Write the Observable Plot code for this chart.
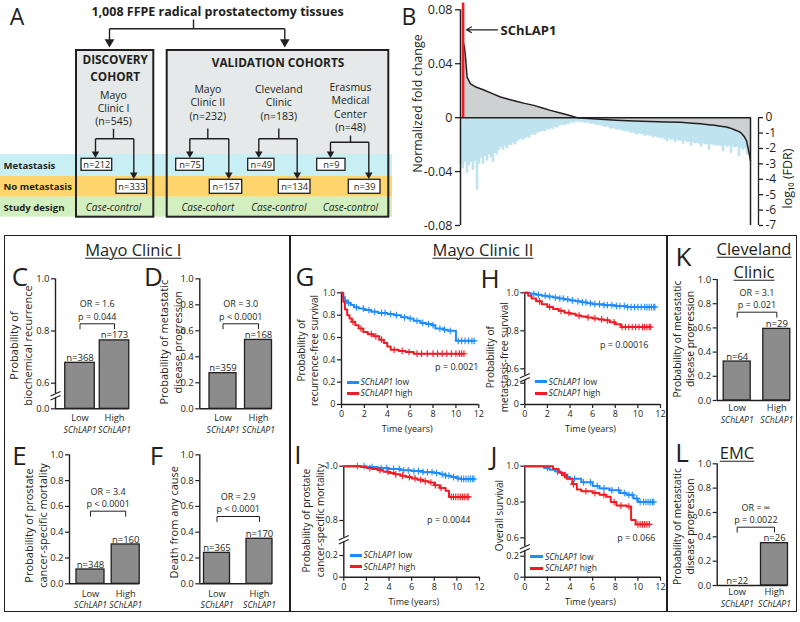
<!DOCTYPE html>
<html><head><meta charset="utf-8">
<script src="https://cdn.jsdelivr.net/npm/d3@7"></script>
<script src="https://cdn.jsdelivr.net/npm/@observablehq/plot@0.6"></script>
<style>
body{margin:0;background:#fff;}
#fig{position:relative;width:800px;height:622px;overflow:hidden;background:#fff;font-family:"Open Sans",sans-serif;color:#231f20;}
.abs{position:absolute;white-space:nowrap;line-height:1;}
.c{transform:translate(-50%,-50%);}
.lm{transform:translate(0,-50%);}
.letter{font-size:26px;}
.ttl{font-size:16.5px;text-decoration:underline;text-decoration-thickness:1px;text-underline-offset:2px;}
.lg{font-size:8.5px;}
.frame{position:absolute;border:1.6px solid #231f20;box-sizing:border-box;}
.vl{position:absolute;width:1.6px;background:#231f20;}
.sw{position:absolute;height:3px;}
#fig svg{position:absolute;}
</style></head><body><div id="fig"></div>
<script>
// ================= DATA =================
// Panel A
const totalTissues = "1,008 FFPE radical prostatectomy tissues";
const groupTitles = ["DISCOVERY\nCOHORT", "VALIDATION COHORTS"];
const cohortNames = ["Mayo\nClinic I", "Mayo\nClinic II", "Cleveland\nClinic", "Erasmus\nMedical\nCenter"];
const cohortN = [545, 232, 183, 48];
const metastasisN = [212, 75, 49, 9];
const noMetastasisN = [333, 157, 134, 39];
const studyDesign = ["Case-control", "Case-cohort", "Case-control", "Case-control"];
const rowLabels = ["Metastasis", "No metastasis", "Study design"];

// Panel B
const fcRank = [1.5, 2, 2.5, 3.3, 5, 8, 11.7, 16, 20, 24, 28.3, 32, 36.7, 41, 45, 49, 53.3, 58.3, 64, 70, 78, 86.7, 95, 103, 110, 116, 120, 124, 127, 130, 133, 135, 137, 139, 140, 141, 142, 143, 144, 144.5, 145];
const fcValue = [0.055, 0.052, 0.045, 0.03, 0.025, 0.0225, 0.0205, 0.0178, 0.0153, 0.0136, 0.012, 0.0106, 0.0091, 0.0072, 0.0054, 0.0038, 0.0022, 0, -0.0006, -0.0012, -0.0019, -0.0025, -0.0029, -0.0032, -0.0035, -0.0041, -0.0046, -0.0052, -0.0057, -0.0063, -0.007, -0.0078, -0.009, -0.0102, -0.011, -0.0125, -0.0144, -0.017, -0.024, -0.028, -0.032];
const fdrLog10 = [
 -3.0,-3.3,-2.9,-3.6,-3.1,-2.9,-3.4,-2.8,-4.7,-3.0,
 -2.6,-3.0,-2.5,-2.8,-2.4,-2.6,-2.9,-2.3,-2.4,-2.1,
 -1.9,-2.1,-1.85,-2.0,-1.75,-1.8,-1.65,-1.75,-1.55,-1.45,
 -1.4,-1.45,-1.35,-1.25,-1.3,-1.15,-1.05,-1.15,-1.0,-0.95,
 -0.9,-0.85,-0.9,-0.75,-0.8,-0.7,-0.75,-0.6,-0.65,-0.55,
 -0.5,-0.45,-0.5,-0.4,-0.42,-0.3,-0.35,-0.28,-0.25,-0.3,
 -0.32,-0.3,-0.36,-0.33,-0.35,-0.42,-0.4,-0.45,-0.5,-0.48,
 -0.5,-0.55,-0.62,-0.58,-0.65,-0.72,-0.68,-0.75,-0.8,-0.76,
 -0.82,-0.85,-0.9,-0.88,-0.95,-1.0,-0.96,-1.05,-1.1,-1.02,
 -1.08,-1.1,-1.2,-1.12,-1.18,-1.2,-1.3,-1.22,-1.28,-1.3,
 -1.35,-1.32,-1.4,-1.55,-1.38,-1.45,-1.42,-1.6,-1.45,-1.5,
 -1.52,-1.7,-1.5,-1.6,-1.58,-1.85,-1.6,-1.68,-1.62,-1.7,
 -1.9,-1.68,-1.75,-1.72,-2.1,-1.72,-1.8,-1.78,-1.85,-1.8,
 -1.85,-2.2,-1.82,-1.9,-1.86,-2.3,-1.88,-1.95,-1.9,-2.5,
 -1.95,-2.1,-2.0,-2.4,-2.05];
const schlap1Rank = 1.3;
const schlap1FC = 0.085;
const fcTicks = [-0.08, -0.04, 0, 0.04, 0.08];
const fcTickLabels = ["-0.08", "-0.04", "0", "0.04", "0.08"];
const fdrTicks = [0, -1, -2, -3, -4, -5, -6, -7];

// Bar panels (C, D, E, F, K, L)
const barGroups = ["Low", "High"];
const bcrProb = [0.678, 0.764], bcrN = [368, 173];
const metProbMayo = [0.274, 0.53], metNMayo = [359, 168];
const pcsmProb = [0.111, 0.305], pcsmN = [348, 160];
const deathProb = [0.24, 0.349], deathN = [365, 170];
const metProbCleveland = [0.322, 0.592], metNCleveland = [64, 29];
const metProbEMC = [0, 0.348], metNEMC = [22, 26];
const oddsRatios = ["OR = 1.6", "OR = 3.0", "OR = 3.4", "OR = 2.9", "OR = 3.1", "OR = \u221E"];
const pValuesBar = ["p = 0.044", "p < 0.0001", "p < 0.0001", "p < 0.0001", "p = 0.021", "p = 0.0022"];
const barTitles = ["Probability of\nbiochemical recurrence", "Probability of metastatic\ndisease progression", "Probability of prostate\ncancer-specific mortality", "Death from any cause", "Probability of metastatic\ndisease progression", "Probability of metastatic\ndisease progression"];
const barTicksBroken = [0, 0.6, 0.8, 1.0];
const barTicks = [0, 0.2, 0.4, 0.6, 0.8, 1.0];

// Survival panels (G, H, I, J)
const gLowTime = [0,0.15,0.3,0.5,0.8,1.1,1.5,2.0,2.6,3.2,4.0,4.6,5.2,5.8,6.3,6.9,7.4,7.9,8.2,8.9,9.3,10.0];
const gLowSurv = [1.0,0.96,0.93,0.91,0.89,0.87,0.86,0.845,0.83,0.82,0.81,0.80,0.78,0.77,0.75,0.73,0.72,0.71,0.68,0.67,0.66,0.57];
const gLowCensor = [0.6,1.3,1.9,2.4,2.9,3.5,3.8,4.3,4.8,5.5,6.0,6.6,7.1,7.6,8.0,8.6,9.0,9.5,10.2,10.5,10.8,11.1,11.4,11.6];
const gHighTime = [0,0.15,0.3,0.5,0.7,0.9,1.2,1.5,1.9,2.3,2.8,3.3,3.7,4.0,4.3,5.0,5.6,6.3];
const gHighSurv = [1.0,0.92,0.85,0.80,0.77,0.74,0.71,0.68,0.65,0.63,0.61,0.58,0.55,0.52,0.49,0.48,0.47,0.455];
const gHighCensor = [1.0,1.7,2.6,3.0,3.5,4.6,5.3,5.9,6.6,7.0,7.5,8.0,8.4,8.8,9.2,9.6,10.0,10.3,10.5,10.7];
const hLowTime = [0,0.5,1,1.5,2,2.5,3,3.5,4,4.5,5,5.5,6,7,8,9];
const hLowSurv = [1,0.995,0.99,0.985,0.98,0.975,0.97,0.965,0.96,0.955,0.95,0.945,0.94,0.935,0.93,0.925];
const hLowCensor = [0.8,1.2,1.8,2.2,2.7,3.1,3.4,3.8,4.2,4.7,5.1,5.4,5.8,6.2,6.6,7.0,7.3,7.7,8.1,8.4,8.8,9.1,9.4,9.7,10.0,10.3,10.6,10.8,11.0,11.2,11.4,11.5];
const hHighTime = [0,0.3,0.6,1,1.5,2,2.5,3,3.5,4,4.5,5,5.5,6,6.5,7,7.5,8,8.5];
const hHighSurv = [1,0.985,0.97,0.955,0.94,0.925,0.915,0.905,0.895,0.89,0.88,0.875,0.87,0.865,0.86,0.855,0.845,0.835,0.82];
const hHighCensor = [1.3,2.2,3.2,3.9,4.8,5.6,6.2,6.8,7.3,7.9,8.6,8.9,9.2,9.5,9.8,10.1,10.4,10.6,10.8,11.0,11.1];
const iLowTime = [0,2,3,4,5,6,7,8,8.5,9,9.5,10,10.3];
const iLowSurv = [1,0.997,0.993,0.99,0.985,0.982,0.978,0.975,0.97,0.965,0.96,0.955,0.953];
const iLowCensor = [1.2,1.8,2.5,3.3,3.8,4.4,4.9,5.3,5.7,6.2,6.6,7.0,7.4,7.8,8.2,8.7,9.0,9.3,9.7,10.1,10.4,10.6,10.8,11.0,11.2,11.4,11.5];
const iHighTime = [0,1.5,2,2.5,3,3.5,4,4.5,5,5.5,6,6.5,7,7.5,8,8.5,9,9.3];
const iHighSurv = [1,0.997,0.993,0.99,0.985,0.98,0.975,0.97,0.965,0.96,0.955,0.95,0.945,0.94,0.93,0.92,0.91,0.887];
const iHighCensor = [2.3,3.2,3.9,4.6,5.2,5.8,6.3,6.8,7.2,7.7,8.1,8.6,9.5,9.7,9.9,10.1,10.3,10.5,10.7,10.9,11.0];
const jLowTime = [0,1.7,2.2,2.7,3.2,3.6,4.0,5.0,6.0,6.6,7.5,8.4,9.0,9.6,10.0];
const jLowSurv = [1,0.99,0.98,0.97,0.96,0.94,0.93,0.91,0.89,0.876,0.865,0.85,0.84,0.82,0.80];
const jLowCensor = [2.0,2.9,3.8,4.4,5.2,5.8,6.4,7.0,7.7,8.3,8.8,9.2,9.5,9.9,10.2,10.5,10.7,10.9,11.1,11.3,11.4];
const jHighTime = [0,2.5,3.0,3.3,3.7,4.2,4.6,5.0,6.0,6.6,7.2,7.6,8.1,9.0,9.4,9.8];
const jHighSurv = [1,0.985,0.965,0.95,0.93,0.90,0.87,0.86,0.85,0.84,0.83,0.80,0.78,0.775,0.70,0.675];
const jHighCensor = [3.5,4.3,5.4,6.2,7.0,7.9,8.5,9.2,10.0,10.2,10.4,10.6,10.8,11.0];
const survPValues = ["p = 0.0021", "p = 0.00016", "p = 0.0044", "p = 0.066"];
const survTitles = ["Probability of\nrecurrence-free survival", "Probability of\nmetastasis-free survival", "Probability of prostate\ncancer-specific mortality", "Overall survival"];
const timeTicks = [0, 2, 4, 6, 8, 10, 12];
const survTicksG = [0, 0.2, 0.4, 0.6, 0.8, 1.0];
const survTicksHJ = [0, 0.2, 0.6, 0.8, 1.0];
const survTicksI = [0, 0.2, 0.8, 1.0];

// ================= STYLE / LAYOUT =================
const INK = "#231f20", BLUE = "#1e8cff", RED = "#ee1c24", BAR = "#8c8c8c";
const fig = document.getElementById("fig");
const baseStyle = {fontFamily: '"Open Sans", sans-serif', fontSize: "10px", color: INK, background: "transparent", overflow: "visible"};
function place(svg, x, y) { svg.style.left = x + "px"; svg.style.top = y + "px"; fig.appendChild(svg); }
function html(cls, text, x, y, extra) {
  const e = document.createElement("div"); e.className = "abs " + cls; e.innerHTML = text;
  e.style.left = x + "px"; e.style.top = y + "px"; if (extra) Object.assign(e.style, extra); fig.appendChild(e); return e;
}
function frameOpts(box, frame) {
  const [x0, y0, x1, y1] = box, [fl, ft, fr, fb] = frame;
  return {width: x1 - x0, height: y1 - y0, marginLeft: fl - x0, marginTop: ft - y0, marginRight: x1 - fr, marginBottom: y1 - fb};
}
const fmt1 = d => d === 0 ? "0" : d.toFixed(1);
const fmtBar = d => d.toFixed(1);
const vtext = {textAnchor: "middle", lineAnchor: "middle", rotate: -90};

// ---------------- Panel A ----------------
const LA = {
  cx: [113, 207.3, 278.3, 350], nameY: [107.3, 101.7, 101.7, 106.3],
  stemTop: [128.3, 128, 128, 135], forkY: [138.3, 138.3, 138.3, 141.7],
  forkL: [95, 189.3, 258.3, 330], forkR: [133.3, 228.3, 296.7, 368.3],
  met: [[81, 111.7], [175.7, 203.3], [247.7, 274], [316.7, 345]], metY: [158.3, 170.3],
  nom: [[116, 146.7], [209.3, 241.7], [278.3, 310], [348.3, 380]], nomY: [179.3, 193.3],
  bands: [[154, 176], [176, 196.7], [196.7, 216.7]], bandColors: ["#c8eff4", "#fdd56c", "#d2f0bf"], bandRight: 392,
  boxes: [[76, 153.3], [166.7, 388.3]], boxY: [50, 216.7], boxFill: "#e5e9e9",
  titleX: 217, titleY: 11.5, topStemX: 193, topY: [19, 28.3], topArrows: [109, 284.3], topTip: 47,
  groupX: [114.7, 277.5], groupY: [66.5, 61], rowX: 3, rowY: [165, 186.5, 207], designY: 207.3
};
{
  const lines = [], tips = [], bigTips = [];
  lines.push([LA.topStemX, LA.topY[0], LA.topStemX, LA.topY[1]]);
  lines.push([LA.topArrows[0], LA.topY[1], LA.topArrows[1], LA.topY[1]]);
  for (const x of LA.topArrows) { lines.push([x, LA.topY[1], x, LA.topTip - 6]); bigTips.push([x, LA.topTip - 5.5]); }
  for (let i = 0; i < 4; i++) {
    lines.push([LA.cx[i], LA.stemTop[i], LA.cx[i], LA.forkY[i]]);
    lines.push([LA.forkL[i], LA.forkY[i], LA.forkR[i], LA.forkY[i]]);
    lines.push([LA.forkL[i], LA.forkY[i], LA.forkL[i], LA.metY[0] - 4]);
    lines.push([LA.forkR[i], LA.forkY[i], LA.forkR[i], LA.nomY[0] - 4]);
    tips.push([LA.forkL[i], LA.metY[0] - 5.2]);
    tips.push([LA.forkR[i], LA.nomY[0] - 5.2]);
  }
  const idx4 = [0, 1, 2, 3];
  const marks = [];
  LA.bandColors.forEach((c, i) => marks.push(Plot.rect([i], {x1: 0, x2: LA.bandRight, y1: LA.bands[i][0], y2: LA.bands[i][1], fill: c})));
  marks.push(
    Plot.rect([0, 1], {x1: i => LA.boxes[i][0], x2: i => LA.boxes[i][1], y1: LA.boxY[0], y2: LA.bands[0][0], fill: LA.boxFill}),
    Plot.rect([0, 1], {x1: i => LA.boxes[i][0], x2: i => LA.boxes[i][1], y1: LA.boxY[0], y2: LA.boxY[1], fill: "none", stroke: INK, strokeWidth: 2}),
    Plot.link(lines, {x1: d => d[0], y1: d => d[1], x2: d => d[2], y2: d => d[3], stroke: INK, strokeWidth: 1.4}),
    Plot.dot(tips, {x: d => d[0], y: d => d[1], symbol: "triangle", rotate: 180, r: 2.8, fill: INK}),
    Plot.dot(bigTips, {x: d => d[0], y: d => d[1], symbol: "triangle", rotate: 180, r: 3.6, fill: INK}),
    Plot.rect(idx4, {x1: i => LA.met[i][0], x2: i => LA.met[i][1], y1: LA.metY[0], y2: LA.metY[1], fill: "white", stroke: INK, strokeWidth: 1.3}),
    Plot.rect(idx4, {x1: i => LA.nom[i][0], x2: i => LA.nom[i][1], y1: LA.nomY[0], y2: LA.nomY[1], fill: "white", stroke: INK, strokeWidth: 1.3}),
    Plot.text(idx4, {x: i => (LA.met[i][0] + LA.met[i][1]) / 2, y: (LA.metY[0] + LA.metY[1]) / 2, text: i => "n=" + metastasisN[i], fontSize: 9.3}),
    Plot.text(idx4, {x: i => (LA.nom[i][0] + LA.nom[i][1]) / 2, y: (LA.nomY[0] + LA.nomY[1]) / 2, text: i => "n=" + noMetastasisN[i], fontSize: 9.3}),
    Plot.text(idx4, {x: i => LA.cx[i], y: i => LA.nameY[i], text: i => cohortNames[i] + "\n(n=" + cohortN[i] + ")", fontSize: 10.5, lineHeight: 1.27}),
    Plot.text(idx4, {x: i => LA.cx[i], y: LA.designY, text: i => studyDesign[i], fontSize: 10, fontStyle: "italic"}),
    Plot.text(rowLabels, {x: LA.rowX, y: (d, i) => LA.rowY[i], textAnchor: "start", fontWeight: "bold", fontSize: 9.6}),
    Plot.text(groupTitles, {x: (d, i) => LA.groupX[i], y: (d, i) => LA.groupY[i], fontWeight: "bold", fontSize: 11.8, lineHeight: 1.45}),
    Plot.text([totalTissues], {x: LA.titleX, y: LA.titleY, fontWeight: "bold", fontSize: 12.5})
  );
  const p = Plot.plot({width: 400, height: 222, margin: 0, x: {domain: [0, 400], range: [0, 400], axis: null}, y: {domain: [0, 222], range: [0, 222], axis: null}, style: baseStyle, marks});
  place(p, 0, 0);
}

// ---------------- Panel B ----------------
{
  const LB = {box: [400, 0, 800, 235], frame: [460, 9.3, 750, 225], rightAxisDx: 8,
    arrow: [497, 29.3, 466, 29.3], label: [500, 30], yTitle: [417, 103], y2Title: [787, 178]};
  const K = 0.08 / 7;
  const xs = d3.scaleLinear([0, 145], [LB.frame[0], LB.frame[2]]);
  const ys = d3.scaleLinear([-0.08, 0.08], [LB.frame[3], LB.frame[1]]);
  const fcMap = new Map(fcTicks.map((t, i) => [t, fcTickLabels[i]]));
  const midY = (LB.frame[1] + LB.frame[3]) / 2;
  const marks = [
    Plot.rect(fdrLog10, {x1: (d, i) => i, x2: (d, i) => i + 1, y1: 0, y2: d => d * K, fill: "#bfe3ef", stroke: "#bfe3ef", strokeWidth: 0.6}),
    Plot.areaY(fcRank, {x: d => d, y1: 0, y2: (d, i) => fcValue[i], fill: "#cdd1d1"}),
    Plot.lineY(fcRank, {x: d => d, y: (d, i) => fcValue[i], stroke: INK, strokeWidth: 1.5}),
    Plot.ruleY([0], {x1: 0, x2: 145, stroke: INK, strokeWidth: 1.5}),
    Plot.ruleX([145], {y1: 0, y2: -0.08, stroke: INK, strokeWidth: 1.5}),
    Plot.ruleX([schlap1Rank], {y1: 0, y2: schlap1FC, stroke: RED, strokeWidth: 2.6}),
    Plot.ruleX([0], {y1: -0.08, y2: 0.08, stroke: INK, strokeWidth: 1.5}),
    Plot.axisY({ticks: fcTicks, tickFormat: d => fcMap.get(d), tickSize: 5, tickPadding: 3, fontSize: 12.5, strokeWidth: 1.3, label: null}),
    Plot.ruleX([145], {y1: 0, y2: -0.08, dx: LB.rightAxisDx, stroke: INK, strokeWidth: 1.3}),
    Plot.axisY({anchor: "right", dx: LB.rightAxisDx, ticks: fdrTicks.map(v => v * K), tickFormat: d => String(Math.round(d / K)), tickSize: 4, tickPadding: 3, fontSize: 12, strokeWidth: 1.3, label: null}),
    Plot.arrow([0], {x1: xs.invert(LB.arrow[0]), y1: ys.invert(LB.arrow[1]), x2: xs.invert(LB.arrow[2]), y2: ys.invert(LB.arrow[3]), stroke: INK, strokeWidth: 1.2, headLength: 7}),
    Plot.text(["SChLAP1"], {x: xs.invert(LB.label[0]), y: ys.invert(LB.label[1]), textAnchor: "start", fontWeight: "bold", fontSize: 13}),
    Plot.text(["Normalized fold change"], {frameAnchor: "left", ...vtext, dx: LB.yTitle[0] - LB.frame[0], dy: LB.yTitle[1] - midY, fontSize: 12.5}),
    Plot.text(["log\u2081\u2080 (FDR)"], {frameAnchor: "right", ...vtext, dx: LB.y2Title[0] - LB.frame[2], dy: LB.y2Title[1] - midY, fontSize: 12.5})
  ];
  const p = Plot.plot({...frameOpts(LB.box, LB.frame), x: {domain: [0, 145], axis: null}, y: {domain: [-0.08, 0.08], axis: null}, style: baseStyle, marks});
  place(p, LB.box[0], LB.box[1]);
}

// ---------------- helpers for lower panels ----------------
// Broken axes: values are mapped through a piecewise d3 scale to a 0..1 display coordinate that Plot's linear y scale then draws.
function displayMap(L) {
  const yTop = L.yRange[L.yRange.length - 1], yBot = L.yRange[0];
  const pw = d3.scaleLinear(L.yDomain, L.yRange);
  return {yTop, yBot, D: v => (yBot - pw(v)) / (yBot - yTop), P: px => (yBot - px) / (yBot - yTop)};
}
function axisLineMarks(xs, P, xVal, brk, axisX) {
  const m = [];
  if (brk == null) m.push(Plot.ruleX([xVal], {y1: 0, y2: 1, stroke: INK, strokeWidth: 1.4}));
  else {
    m.push(Plot.ruleX([xVal], {y1: 0, y2: P(brk + 4.5), stroke: INK, strokeWidth: 1.4}));
    m.push(Plot.ruleX([xVal], {y1: P(brk), y2: 1, stroke: INK, strokeWidth: 1.4}));
    const links = [[-5, 2.5, 5, -2], [-5, 6.5, 5, 2]].map(([a, b, c, d]) => ({x1: xs.invert(axisX + a), y1: P(brk + b), x2: xs.invert(axisX + c), y2: P(brk + d)}));
    m.push(Plot.link(links, {x1: "x1", y1: "y1", x2: "x2", y2: "y2", stroke: INK, strokeWidth: 1.2}));
  }
  return m;
}

function barPanel(L, vals, ns, orText, pText, yTitle, ticks) {
  const {yTop, yBot, D, P} = displayMap(L);
  const u = L.c1 - L.c0;
  const xd = [(L.axisX - L.c0) / u, (L.right - L.c0) / u];
  const hw = L.w / 2 / u;
  const xs = d3.scaleLinear(xd, [L.axisX, L.right]);
  const idx = [0, 1];
  const b = P(L.bracketPx), leg = P(L.bracketPx + 5);
  const tickMap = new Map(ticks.map(t => [D(t), fmtBar(t)]));
  const marks = [
    Plot.rect(idx, {x1: i => i - hw, x2: i => i + hw, y1: 0, y2: i => D(vals[i]), fill: BAR, stroke: INK, strokeWidth: 1.3}),
    ...axisLineMarks(xs, P, xd[0], L.brk, L.axisX),
    Plot.ruleY([0], {x1: xd[0], x2: 1 + hw, stroke: INK, strokeWidth: 1.4}),
    Plot.axisY({ticks: ticks.map(D), tickFormat: d => tickMap.get(d), tickSize: 4, tickPadding: 2, fontSize: 9.5, strokeWidth: 1.2, label: null}),
    Plot.line([[0, leg], [0, b], [1, b], [1, leg]], {x: d => d[0], y: d => d[1], stroke: INK, strokeWidth: 1}),
    Plot.text([pText], {x: 0.5, y: b, dy: -7, fontSize: 9}),
    Plot.text([orText], {x: 0.5, y: b, dy: -19.5, fontSize: 9}),
    Plot.text(idx, {x: i => i, y: i => D(vals[i]), text: i => "n=" + ns[i], dy: -5, fontSize: 9.5}),
    Plot.text(idx, {x: i => i, y: 0, text: i => barGroups[i], dy: L.lowDy || 9, fontSize: 9.3}),
    Plot.text(idx, {x: i => i, y: 0, text: () => "SChLAP1", dy: L.schDy || 21.5, fontSize: 8.6, fontStyle: "italic"}),
    Plot.text([yTitle], {frameAnchor: "left", ...vtext, dx: L.titleX - L.axisX, dy: L.titleY - (yTop + yBot) / 2, fontSize: L.titleSize || 11, lineHeight: 1.27})
  ];
  const p = Plot.plot({...frameOpts(L.box, [L.axisX, yTop, L.right, yBot]),
    x: {domain: xd, axis: null}, y: {domain: [0, 1], axis: null}, style: baseStyle, marks});
  place(p, L.box[0], L.box[1]);
}

function kmLine(times, surv, censor) {
  const pts = times.map((t, i) => ({t, s: surv[i]}));
  const end = Math.max(...censor, times[times.length - 1]);
  pts.push({t: end, s: surv[surv.length - 1]});
  const sAt = t => { let s = 1; for (let i = 0; i < times.length; i++) if (times[i] <= t) s = surv[i]; return s; };
  return {pts, cens: censor.map(t => ({t, s: sAt(t)}))};
}

function survPanel(L, curves, pText, yTitle, ticks) {
  const {yTop, yBot, D, P} = displayMap(L);
  const xs = d3.scaleLinear([0, 12], [L.axisX, L.x12]);
  const tickMap = new Map(ticks.map(t => [D(t), fmt1(t)]));
  const marks = [
    ...axisLineMarks(xs, P, 0, L.brk, L.axisX),
    Plot.ruleY([0], {x1: 0, x2: 12, stroke: INK, strokeWidth: 1.4}),
    Plot.axisY({ticks: ticks.map(D), tickFormat: d => tickMap.get(d), tickSize: 4, tickPadding: 2, fontSize: 9, strokeWidth: 1.2, label: null}),
    Plot.axisX({ticks: timeTicks, tickSize: 4, tickPadding: 2, fontSize: 9, strokeWidth: 1.2, label: null})
  ];
  for (const c of curves) {
    marks.push(Plot.line(c.pts, {x: "t", y: d => D(d.s), curve: "step-after", stroke: c.color, strokeWidth: 2}));
    marks.push(Plot.dot(c.cens, {x: "t", y: d => D(d.s), symbol: "plus", r: 2.3, stroke: c.color, strokeWidth: 1.1}));
  }
  marks.push(
    Plot.text([pText], {x: xs.invert(L.pX), y: P(L.pY), textAnchor: "end", fontSize: 9}),
    Plot.text([yTitle], {frameAnchor: "left", ...vtext, dx: L.titleX - L.axisX, dy: L.titleY - (yTop + yBot) / 2, fontSize: 10, lineHeight: 1.33}),
    Plot.text(["Time (years)"], {frameAnchor: "bottom", lineAnchor: "middle", dx: L.timeX - (L.axisX + L.x12) / 2, dy: L.timeY - yBot, fontSize: 9})
  );
  const p = Plot.plot({...frameOpts(L.box, [L.axisX, yTop, L.x12, yBot]),
    x: {domain: [0, 12], axis: null}, y: {domain: [0, 1], axis: null}, style: baseStyle, marks});
  place(p, L.box[0], L.box[1]);
}

// ---------------- Lower frame ----------------
{
  const fr = document.createElement("div"); fr.className = "frame";
  Object.assign(fr.style, {left: "4px", top: "235px", width: "793px", height: "377px"}); fig.appendChild(fr);
  for (const x of [289, 666]) { const v = document.createElement("div"); v.className = "vl"; Object.assign(v.style, {left: x + "px", top: "235px", height: "377px"}); fig.appendChild(v); }
}

// ---------------- Bar panels ----------------
barPanel({box: [0, 262, 145, 440], axisX: 55, right: 135, c0: 79.5, c1: 114, w: 29.5, yDomain: [0, 0.6, 1], yRange: [408.3, 382.7, 278.3], brk: 393, bracketPx: 323.3, titleX: 19.7, titleY: 345},
  bcrProb, bcrN, oddsRatios[0], pValuesBar[0], barTitles[0], barTicksBroken);
barPanel({box: [140, 262, 289, 440], axisX: 199.3, right: 280, c0: 222.5, c1: 258, w: 27, yDomain: [0, 1], yRange: [408.3, 278.3], bracketPx: 323.3, titleX: 170, titleY: 341.7},
  metProbMayo, metNMayo, oddsRatios[1], pValuesBar[1], barTitles[1], barTicks);
barPanel({box: [0, 440, 145, 611], axisX: 69, right: 146, c0: 90, c1: 125.2, w: 28, yDomain: [0, 1], yRange: [583.3, 454.3], bracketPx: 510.7, titleX: 35, titleY: 525, lowDy: 10},
  pcsmProb, pcsmN, oddsRatios[2], pValuesBar[2], barTitles[2], barTicks);
barPanel({box: [140, 440, 289, 611], axisX: 199.3, right: 280, c0: 216.5, c1: 259, w: 26, yDomain: [0, 1], yRange: [583.3, 454.3], bracketPx: 516, titleX: 173.3, titleY: 521.7, lowDy: 10},
  deathProb, deathN, oddsRatios[3], pValuesBar[3], barTitles[3], barTicks);
barPanel({box: [668, 262, 800, 440], axisX: 716.7, right: 795, c0: 736.7, c1: 776.3, w: 27, yDomain: [0, 1], yRange: [400, 279], bracketPx: 311.7, titleX: 682.5, titleY: 338.5, titleSize: 10.3, lowDy: 8, schDy: 20},
  metProbCleveland, metNCleveland, oddsRatios[4], pValuesBar[4], barTitles[4], barTicks);
barPanel({box: [668, 440, 800, 611], axisX: 716.7, right: 795, c0: 736.7, c1: 774, w: 27, yDomain: [0, 1], yRange: [585, 463.3], bracketPx: 526.7, titleX: 682.5, titleY: 526, titleSize: 10.3, lowDy: 7, schDy: 18.5},
  metProbEMC, metNEMC, oddsRatios[5], pValuesBar[5], barTitles[5], barTicks);

// ---------------- Survival panels ----------------
const mk = (t, s, c, color) => ({...kmLine(t, s, c), color});
survPanel({box: [291, 262, 488, 440], axisX: 341, x12: 478.3, yDomain: [0, 1], yRange: [404, 292.3], pX: 478, pY: 367, titleX: 306.7, titleY: 350, timeX: 406.7, timeY: 428.3},
  [mk(gLowTime, gLowSurv, gLowCensor, BLUE), mk(gHighTime, gHighSurv, gHighCensor, RED)], survPValues[0], survTitles[0], survTicksG);
survPanel({box: [470, 262, 666, 440], axisX: 524.3, x12: 660, yDomain: [0, 0.2, 0.6, 1], yRange: [404, 382.7, 368.3, 292.3], brk: 375, pX: 648, pY: 345, titleX: 496.3, titleY: 356.7, timeX: 590, timeY: 428.3},
  [mk(hLowTime, hLowSurv, hLowCensor, BLUE), mk(hHighTime, hHighSurv, hHighCensor, RED)], survPValues[1], survTitles[1], survTicksHJ);
survPanel({box: [291, 440, 488, 611], axisX: 343.3, x12: 479, yDomain: [0, 0.2, 0.8, 1], yRange: [576.7, 555, 520, 465.7], brk: 537, pX: 470, pY: 520, titleX: 312.2, titleY: 520, timeX: 413.3, timeY: 601.7},
  [mk(iLowTime, iLowSurv, iLowCensor, BLUE), mk(iHighTime, iHighSurv, iHighCensor, RED)], survPValues[2], survTitles[2], survTicksI);
survPanel({box: [470, 440, 666, 611], axisX: 524.3, x12: 660, yDomain: [0, 0.2, 0.6, 1], yRange: [576.7, 555.7, 537.3, 465.7], brk: 546, pX: 655, pY: 538, titleX: 498.3, titleY: 515, timeX: 590, timeY: 601.7},
  [mk(jLowTime, jLowSurv, jLowCensor, BLUE), mk(jHighTime, jHighSurv, jHighCensor, RED)], survPValues[3], survTitles[3], survTicksHJ);

// ---------------- Legends (HTML) ----------------
function legend(sx0, sx1, tx, y1, y2) {
  [[y1, BLUE, "low"], [y2, RED, "high"]].forEach(([y, col, w]) => {
    const s = document.createElement("div"); s.className = "sw";
    Object.assign(s.style, {left: sx0 + "px", top: (y - 1.5) + "px", width: (sx1 - sx0) + "px", background: col}); fig.appendChild(s);
    html("lg lm", "<i>SChLAP1</i> " + w, tx, y);
  });
}
legend(347, 358.5, 360.5, 382.3, 393.3);
legend(535, 546.7, 548.5, 381.7, 393.3);
legend(350, 361.7, 363.5, 555, 566.7);
legend(530, 543, 545, 556.7, 568.3);

// ---------------- Letters & titles (HTML) ----------------
[["A", 17, 16, 23], ["B", 409, 15.5, 23], ["C", 20, 276, 26], ["D", 153.5, 276, 26], ["E", 19.5, 455, 26], ["F", 156.5, 455, 26],
 ["G", 305, 276, 26], ["H", 490, 277.5, 26], ["I", 298, 453.5, 26], ["J", 494, 454.5, 26], ["K", 683.5, 256, 26], ["L", 682, 451.5, 26]]
  .forEach(([t, x, y, s]) => html("letter c", t, x, y, {fontSize: s + "px"}));
html("ttl c", "Mayo Clinic I", 133.3, 250);
html("ttl c", "Mayo Clinic II", 483, 250);
html("ttl c", "Cleveland", 754, 248.5);
html("ttl c", "Clinic", 754, 271.5);
html("ttl c", "EMC", 737, 452.5);
</script></body></html>
